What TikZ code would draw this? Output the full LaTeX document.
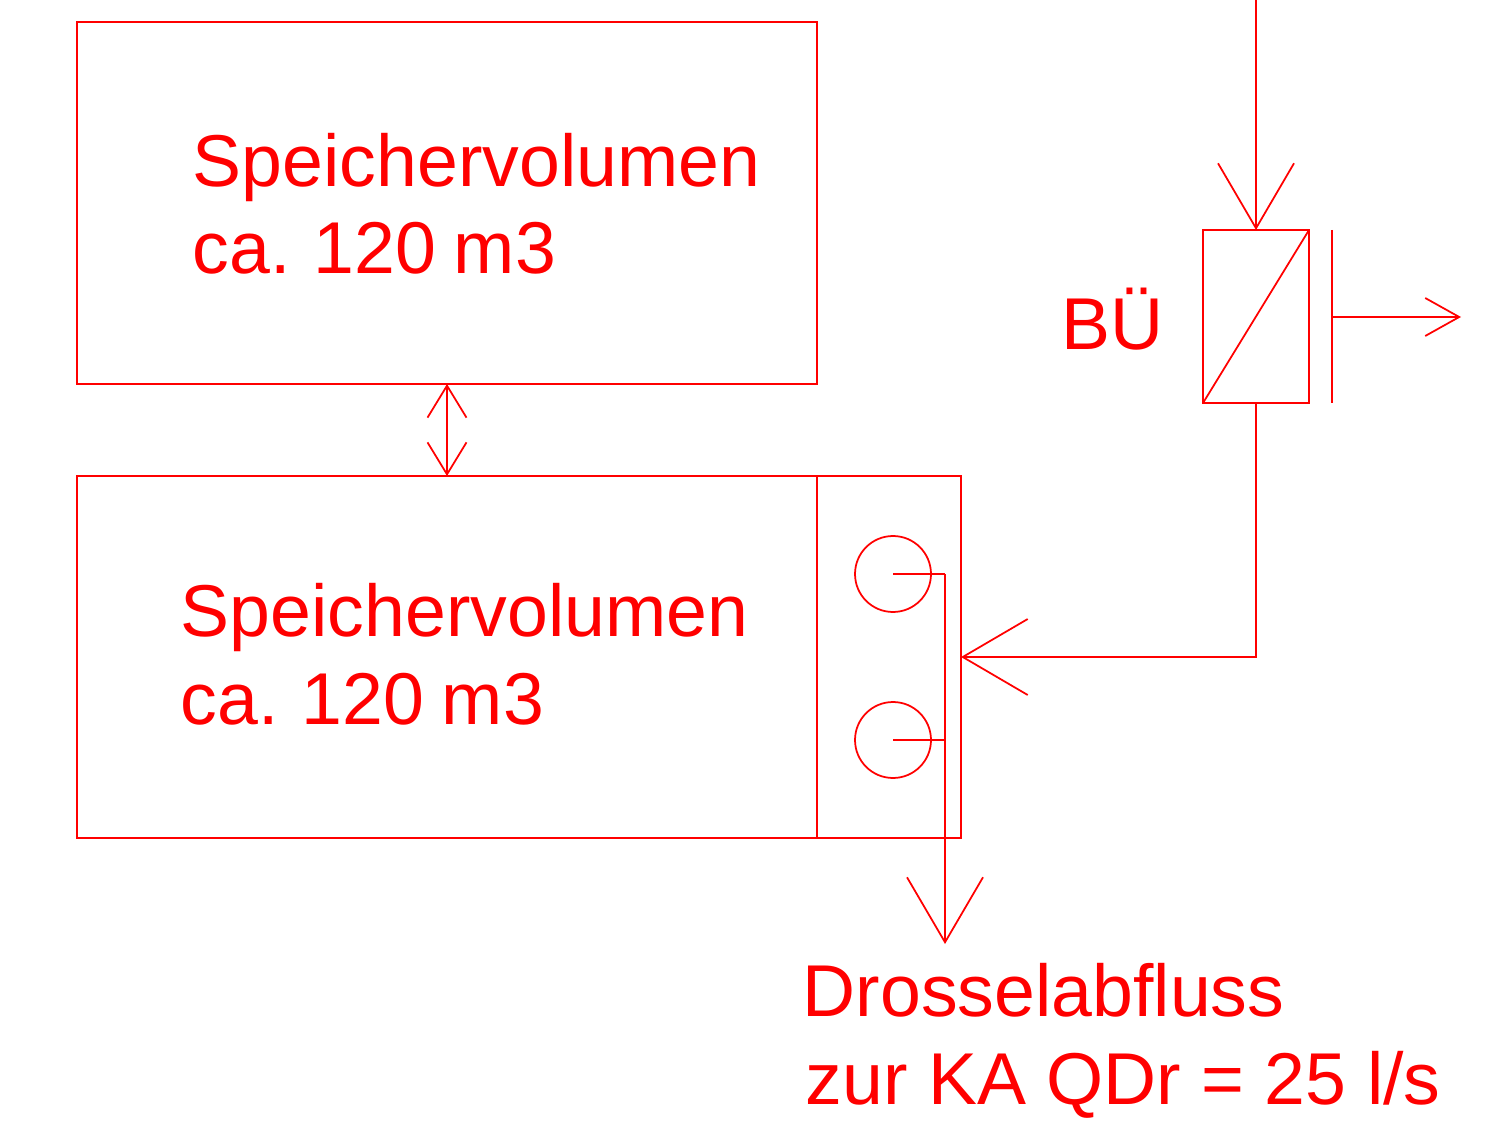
\documentclass[tikz,border=0pt]{standalone}
\usepackage{fontspec}
\setmainfont{Liberation Sans}
\usetikzlibrary{arrows.meta}

\begin{document}
\begin{tikzpicture}[x=0.02cm, y=-0.02cm, line width=0.035cm, red]

\tikzstyle{box} = [rectangle, draw=red, inner sep=0pt, outer sep=0pt, minimum width=0pt]
\tikzstyle{pump} = [circle, draw=red, inner sep=0pt, outer sep=0pt, minimum size=1.52cm]
\tikzstyle{label} = [text=red, inner sep=0pt, align=left, anchor=base west, font=\fontsize{41.8}{50}\selectfont]
\tikzstyle{bigtip} = [-{Straight Barb[length=1.3cm, width=1.52cm, line width=0.035cm]}]
\tikzstyle{midtip} = [-{Straight Barb[length=0.68cm, width=0.76cm, line width=0.035cm]}]
\tikzstyle{smalltip} = [{Straight Barb[length=0.64cm, width=0.78cm, line width=0.035cm]}-{Straight Barb[length=0.64cm, width=0.78cm, line width=0.035cm]}]

\useasboundingbox (0,0) rectangle (1486,1121);

\node[box, minimum width=14.8cm, minimum height=7.24cm] (upper) at (447,203) {};
\node[box, minimum width=14.8cm, minimum height=7.24cm] (lower) at (447,657) {};
\node[box, minimum width=2.88cm, minimum height=7.24cm] (chamber) at (889,657) {};
\node[box, minimum width=2.12cm, minimum height=3.46cm] (valve) at (1256,316.5) {};

\node[pump] (p1) at (893,574) {};
\node[pump] (p2) at (893,740) {};

\coordinate (in) at (1256,0);
\coordinate (pt) at (1332,230);
\coordinate (pb) at (1332,403);
\coordinate (pm) at (1332,317);
\coordinate (out) at (1461,317);
\coordinate (bend) at (1256,657);
\coordinate (drain) at (945,944);
\coordinate (j1) at (945,574);
\coordinate (j2) at (945,740);

\node[label] (t1) at (192,274) {Speichervolumen\\ca.\kern-0.08cm{} 120\kern-0.06cm{} m3};
\node[label] (t2) at (180,724) {Speichervolumen\\ca.\kern-0.08cm{} 120\kern-0.06cm{} m3};
\node[label] (t3) at (1061,350) {BÜ};
\node[label] (t4) at (802,1104) {Drosselabfluss\\\kern0.06cm{}zur KA QDr = 25 l/s};

\draw[smalltip] (upper.south) -- (lower.north);
\draw[bigtip] (in) -- (valve.north);
\draw (valve.south west) -- (valve.north east);
\draw (pt) -- (pb);
\draw[midtip] (pm) -- (out);
\draw[bigtip] (valve.south) -- (bend) -- (chamber.east |- bend);
\draw (p1.center) -- (j1);
\draw (p2.center) -- (j2);
\draw[bigtip] (j1) -- (drain);

\end{tikzpicture}
\end{document}
